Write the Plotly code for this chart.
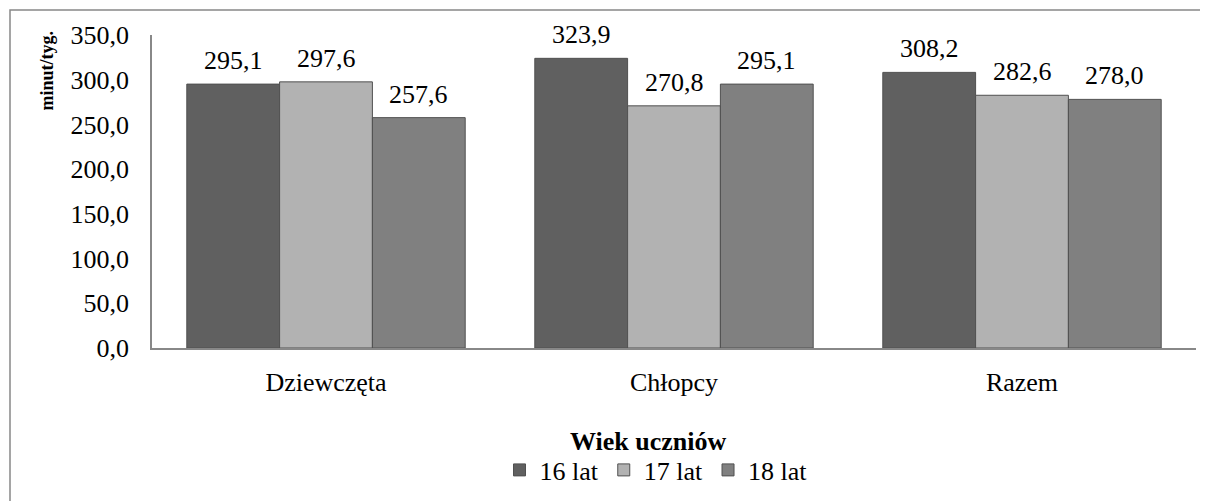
import plotly.graph_objects as go

categories = ["Dziewczęta", "Chłopcy", "Razem"]
series_names = ["16 lat", "17 lat", "18 lat"]
values_16 = [295.1, 323.9, 308.2]
values_17 = [297.6, 270.8, 282.6]
values_18 = [257.6, 295.1, 278.0]
colors = ["#606060", "#b2b2b2", "#808080"]

FONT = "Liberation Serif, Times New Roman, serif"
FS = 26
all_values = [values_16, values_17, values_18]

fig = go.Figure()
for name, vals, col in zip(series_names, all_values, colors):
    fig.add_trace(go.Bar(
        x=categories, y=vals, name=name,
        marker=dict(color=col, line=dict(color="#505050", width=1)),
    ))

# data labels above each bar (bar offset within group computed from bargap)
bargap = 0.2
n = len(all_values)
bw = (1 - bargap) / n
for j, vals in enumerate(all_values):
    for i, v in enumerate(vals):
        fig.add_annotation(
            x=i + (j - (n - 1) / 2) * bw, y=v, xref="x", yref="y",
            text=f"{v:.1f}".replace(".", ","), showarrow=False,
            yanchor="bottom", yshift=7,
            font=dict(family=FONT, size=FS, color="black"),
        )

fig.add_annotation(
    text="<b>minut/tyg.</b>", textangle=-90, showarrow=False,
    xref="paper", yref="paper", x=-0.101, y=0.885,
    xanchor="center", yanchor="middle",
    font=dict(family=FONT, size=18, color="black"),
)
fig.add_annotation(
    text="<b>Wiek uczniów</b>", showarrow=False,
    xref="paper", yref="paper", x=(648 - 152) / 1044, y=(348 - 441) / 313,
    xanchor="center", yanchor="middle",
    font=dict(family=FONT, size=FS, color="black"),
)

# outer chart-area frame
fig.add_shape(
    type="rect", xref="paper", yref="paper",
    x0=(10 - 152) / 1044, x1=(1240 - 152) / 1044,
    y0=(348 - 530) / 313, y1=(348 - 10) / 313,
    line=dict(color="#888888", width=1.5), fillcolor="rgba(0,0,0,0)",
    layer="below",
)

fig.update_layout(
    width=1208, height=501,
    margin=dict(l=144, r=20, t=27, b=161),
    paper_bgcolor="white", plot_bgcolor="white",
    barmode="group", bargap=bargap, bargroupgap=0,
    separators=", ",
    font=dict(family=FONT, size=FS, color="black"),
    showlegend=True,
    legend=dict(
        orientation="h", x=(656 - 152) / 1044, y=(348 - 470) / 313,
        xanchor="center", yanchor="middle",
        font=dict(family=FONT, size=FS, color="black"),
        bgcolor="rgba(0,0,0,0)",
    ),
    xaxis=dict(
        showline=True, linecolor="#888888", linewidth=1.5,
        showgrid=False, ticks="", ticklabelstandoff=10,
        tickfont=dict(family=FONT, size=FS, color="black"),
    ),
    yaxis=dict(
        range=[0, 350], dtick=50, tickformat=".1f",
        showline=True, linecolor="#888888", linewidth=1.5,
        showgrid=False, zeroline=False, ticks="", ticklabelstandoff=16,
        tickfont=dict(family=FONT, size=FS, color="black"),
    ),
)

fig.write_html("out.html")
